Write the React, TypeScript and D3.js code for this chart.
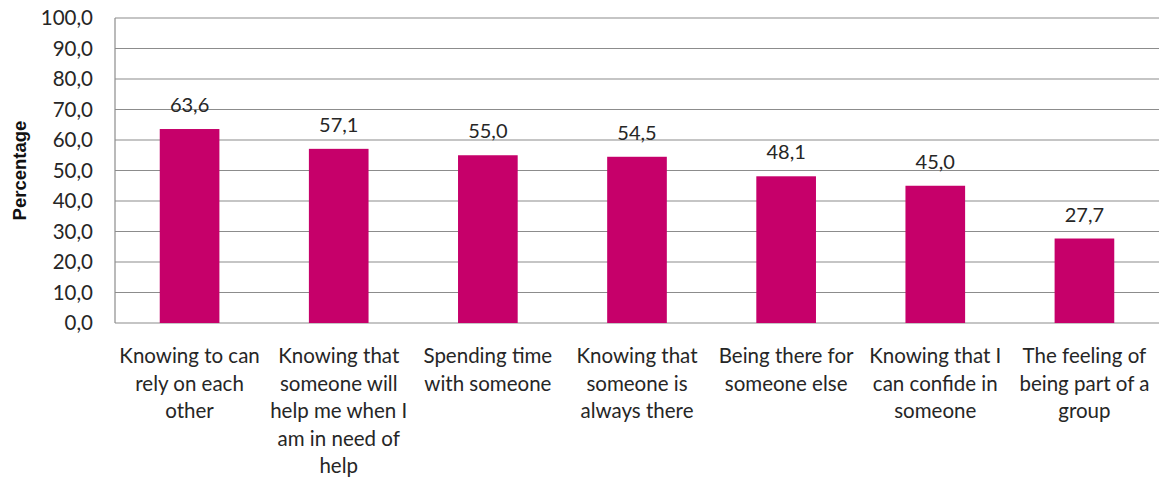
import React from "react";
import * as d3 from "d3";

const categories: string[][] = [
  ["Knowing to can", "rely on each", "other"],
  ["Knowing that", "someone will", "help me when I", "am in need of", "help"],
  ["Spending time", "with someone"],
  ["Knowing that", "someone is", "always there"],
  ["Being there for", "someone else"],
  ["Knowing that I", "can confide in", "someone"],
  ["The feeling of", "being part of a", "group"],
];
const values: number[] = [63.6, 57.1, 55.0, 54.5, 48.1, 45.0, 27.7];
const yTicks: number[] = [0, 10, 20, 30, 40, 50, 60, 70, 80, 90, 100];

const W = 1159;
const H = 485;
const left = 115;
const right = 1159;
const top = 18;
const bottom = 323;
const font = "Lato, 'Open Sans', sans-serif";
const fmt = (v: number) => v.toFixed(1).replace(".", ",");

export default function App() {
  const x = d3
    .scaleBand<number>()
    .domain(values.map((_, i) => i))
    .range([left, right])
    .paddingInner(0.6)
    .paddingOuter(0.3);
  const y = d3.scaleLinear().domain([0, 100]).range([bottom, top]);

  return (
    <svg
      width={W}
      height={H}
      style={{ position: "absolute", left: 0, top: 0, background: "#fff" }}
      fontFamily={font}
    >
      {yTicks.map((t) => (
        <g key={t}>
          <line x1={left} x2={right} y1={y(t)} y2={y(t)} stroke="#8c8c8c" strokeWidth={1.2} />
          <text x={93} y={y(t)} dy="0.35em" textAnchor="end" fontSize={20.5} fill="#262626">
            {fmt(t)}
          </text>
        </g>
      ))}
      <line x1={left} x2={left} y1={top} y2={bottom} stroke="#8c8c8c" strokeWidth={1.2} />
      {values.map((v, i) => {
        const bx = x(i)!;
        const cx = bx + x.bandwidth() / 2;
        return (
          <g key={i}>
            <rect x={bx} y={y(v)} width={x.bandwidth()} height={bottom - y(v)} fill="#C6006A" />
            <text x={cx} y={y(v) - 24} dy="0.35em" textAnchor="middle" fontSize={20} fill="#262626">
              {fmt(v)}
            </text>
            {categories[i].map((line, j) => (
              <text
                key={j}
                x={cx}
                y={356 + j * 27.5}
                dy="0.35em"
                textAnchor="middle"
                fontSize={20.5}
                fill="#262626"
              >
                {line}
              </text>
            ))}
          </g>
        );
      })}
      <text
        transform={`translate(20,${(top + bottom) / 2}) rotate(-90)`}
        textAnchor="middle"
        dy="0.35em"
        fontSize={18.5}
        fontWeight="bold"
        fontFamily="'Liberation Sans', Arial, sans-serif"
        fill="#111"
      >
        Percentage
      </text>
    </svg>
  );
}
